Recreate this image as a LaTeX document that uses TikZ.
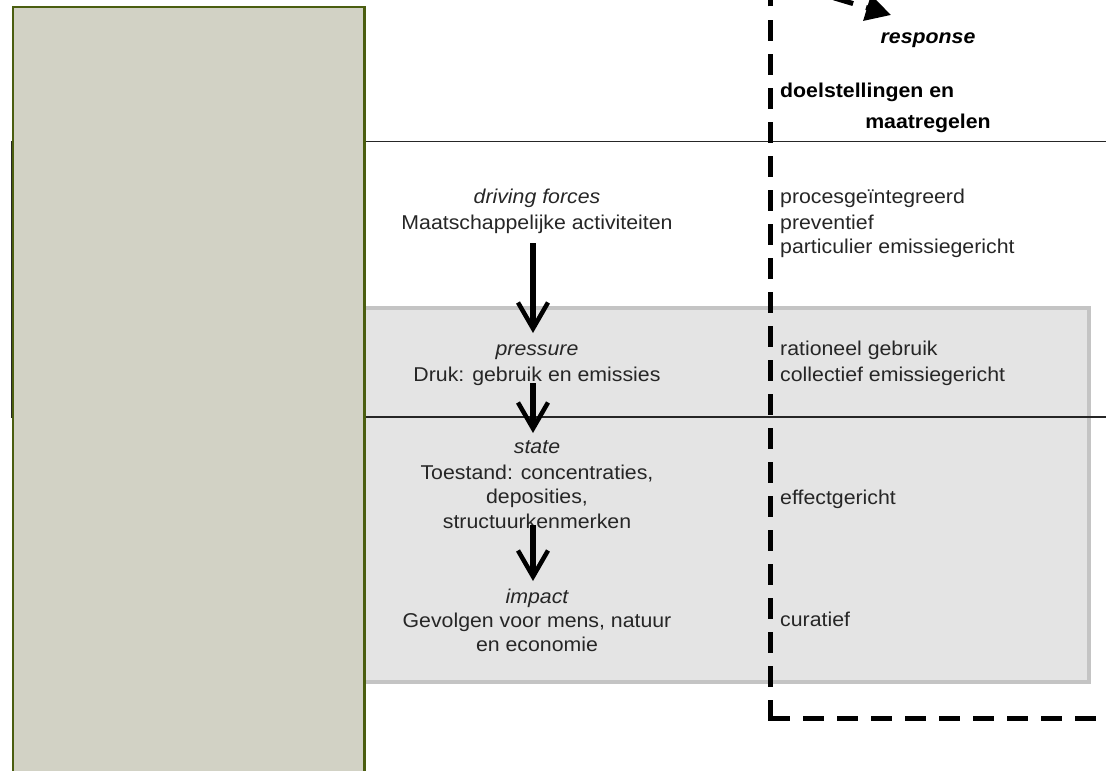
\documentclass[tikz,border=0pt]{standalone}
\usepackage{fontspec}
\setmainfont{Liberation Sans}[FakeStretch=1.065]
\usetikzlibrary{arrows.meta}
\definecolor{txtgray}{HTML}{262626}
\definecolor{greenfill}{HTML}{D2D2C5}
\definecolor{greenline}{HTML}{4B5E10}
\definecolor{boxfill}{HTML}{E4E4E4}
\definecolor{boxline}{HTML}{C4C4C4}
\begin{document}
\begin{tikzpicture}[x=1pt,y=-1pt,
  txt/.style={anchor=base, inner sep=0pt, font=\fontsize{20}{25}\selectfont, text=txtgray},
  ltxt/.style={txt, anchor=base west},
  emph/.style={txt, font=\fontsize{20}{25}\selectfont\itshape},
  boldtxt/.style={anchor=base west, inner sep=0pt, font=\fontsize{20}{25}\selectfont\bfseries, text=black},
  flow/.style={line width=5.5pt, -{Straight Barb[length=26pt,width=30pt,line width=4.5pt]}},
  dashline/.style={line width=5pt, dash pattern=on 20.5pt off 13.5pt},
]
\useasboundingbox (0,0) rectangle (1106,771);
\clip (0,0) rectangle (1106,771);

% grey box
\draw[fill=boxfill, draw=boxline, line width=4pt] (340,307.5) rectangle (1089,682);
% black frame lines
\draw[line width=1.5pt, black!85] (11.5,141.3) rectangle (1130,416.8);
% green column
\draw[fill=greenfill, draw=greenline, line width=2.5pt] (13,7) rectangle (364.5,800);

% dashed response line
\coordinate (corner) at (770,718);
\coordinate (ctop) at (770,-20);
\coordinate (cright) at (1110,718);
\draw[dashline] ([yshift=-2.5pt]corner) -- (ctop);
\draw[dashline] ([xshift=-1pt]corner) -- (cright);
\coordinate (rs) at (788,-16);
\coordinate (re) at (891,15);
\draw[dashline, dash phase=20.5pt, -{Triangle[length=25pt,width=26pt]}] (rs) -- (re);

% response labels
\node[txt, anchor=base, font=\fontsize{20}{25}\selectfont\bfseries\itshape, text=black] (resp) at (928,43) {response};
\node[boldtxt] (doel1) at (780,97) {doelstellingen en};
\node[txt, anchor=base, font=\fontsize{20}{25}\selectfont\bfseries, text=black] (doel2) at (928,128) {maatregelen};

% middle column
\node[emph] (df1) at (537,203) {driving forces};
\node[txt] (df2) at (537,229) {Maatschappelijke activiteiten};
\node[emph] (pr1) at (537,355) {pressure};
\node[txt] (pr2) at (537,381) {Druk: gebruik en emissies};
\node[emph] (st1) at (537,453) {state};
\node[txt] (st2) at (537,479) {Toestand: concentraties,};
\node[txt] (st3) at (537,503) {deposities,};
\node[txt] (st4) at (537,528) {structuurkenmerken};
\node[emph] (im1) at (537,603) {impact};
\node[txt] (im2) at (537,627) {Gevolgen voor mens, natuur};
\node[txt] (im3) at (537,651) {en economie};

% arrows
\coordinate (a1s) at (533,243);
\coordinate (a1e) at (533,333);
\coordinate (a2s) at (533,383);
\coordinate (a2e) at (533,433);
\coordinate (a3s) at (533,525);
\coordinate (a3e) at (533,581);
\draw[flow] (a1s) -- (a1e);
\draw[flow] (a2s) -- (a2e);
\draw[flow] (a3s) -- (a3e);

% right column
\node[ltxt] (r1) at (780,203) {procesgeïntegreerd};
\node[ltxt] (r2) at (780,229) {preventief};
\node[ltxt] (r3) at (780,253) {particulier emissiegericht};
\node[ltxt] (r4) at (780,355) {rationeel gebruik};
\node[ltxt] (r5) at (780,381) {collectief emissiegericht};
\node[ltxt] (r6) at (780,504) {effectgericht};
\node[ltxt] (r7) at (780,626) {curatief};
\end{tikzpicture}
\end{document}
